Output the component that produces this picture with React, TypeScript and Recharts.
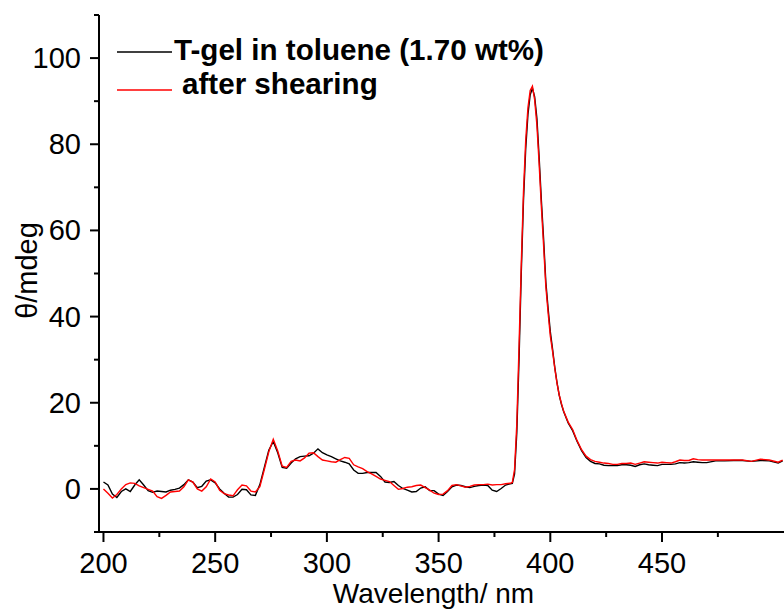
import { LineChart, Line, XAxis, YAxis, Label } from 'recharts';

// CD spectrum, wavelength in nm, theta in mdeg
const wavelength = [
  200, 202, 204, 206, 208, 210, 212, 214, 216, 218, 220, 222, 224, 226, 228, 230, 232, 234, 236, 238,
  240, 242, 244, 246, 248, 250, 252, 254, 256, 258, 260, 262, 264, 266, 268, 270, 272, 274, 276, 278,
  280, 282, 284, 286, 288, 290, 292, 294, 296, 298, 300, 302, 304, 306, 308, 310, 312, 314, 316, 318,
  320, 322, 324, 326, 328, 330, 332, 334, 336, 338, 340, 342, 344, 346, 348, 350, 352, 354, 356, 358,
  360, 362, 364, 366, 368, 370, 372, 374, 376, 378, 380, 382, 383, 384, 385, 386, 387, 388, 389, 390,
  391, 392, 393, 394, 395, 396, 397, 398, 399, 400, 401, 402, 403, 404, 405, 406, 408, 410, 412, 414,
  416, 418, 420, 422, 424, 426, 428, 430, 432, 434, 436, 438, 440, 442, 444, 446, 448, 450, 452, 454,
  456, 458, 460, 462, 464, 466, 468, 470, 474, 478, 482, 486, 490, 494, 498, 502, 504,
];

const gelToluene = [
  1.6, 0.9, -1.2, -2.0, -0.6, 0.0, -0.6, 0.9, 2.1, 0.9, -0.4, -0.8, -0.5, -0.6, -0.7, -0.3, -0.1, 0.2, 1.0, 2.1,
  1.6, 0.3, 0.6, 1.8, 2.1, 1.4, 0.0, -1.0, -1.9, -1.9, -1.3, -0.1, -0.2, -1.4, -1.5, 1.0, 5.0, 9.0, 11.0, 8.4,
  5.0, 4.8, 6.0, 7.0, 7.5, 7.6, 7.7, 8.3, 9.3, 8.4, 7.9, 7.5, 7.0, 6.5, 6.2, 5.8, 4.4, 3.6, 3.6, 3.8,
  3.8, 3.8, 2.9, 1.6, 1.5, 1.7, 0.8, 0.1, -0.3, -0.7, -0.6, 0.2, 0.5, -0.4, -0.4, -1.2, -1.5, -0.6, 0.5, 0.9,
  0.8, 0.5, 0.3, 0.6, 0.8, 0.9, 0.8, -0.3, -0.6, 0.1, 0.9, 1.2, 1.3, 3.5, 13, 30, 50, 67, 79, 87,
  91.5, 93, 91, 86, 77, 67, 58, 48, 42, 36.5, 32.5, 28.2, 24.7, 21.7, 19.6, 17.9, 15.3, 13.5, 11.0, 8.9,
  7.3, 6.4, 5.9, 5.8, 5.5, 5.4, 5.4, 5.4, 5.6, 5.6, 5.5, 5.2, 5.6, 5.8, 5.6, 5.5, 5.4, 5.7, 5.7, 5.7,
  5.8, 6.1, 6.0, 6.1, 6.3, 6.2, 6.1, 6.1, 6.5, 6.5, 6.6, 6.6, 6.4, 6.6, 6.5, 6.0, 6.5,
];

const afterShearing = [
  0.0, -1.0, -2.1, -1.3, 0.0, 1.0, 1.4, 1.3, 0.7, 0.3, -0.1, -0.5, -1.8, -2.2, -1.5, -0.7, -0.6, -0.5, 0.5, 2.1,
  1.6, 0.0, -0.5, 0.5, 2.3, 1.6, -0.3, -1.1, -1.4, -1.6, -0.2, 0.9, 0.7, -0.5, -0.7, 0.5, 4.5, 8.6, 11.5, 8.8,
  5.3, 5.0, 6.4, 6.7, 6.5, 7.2, 8.3, 8.4, 7.5, 6.7, 6.5, 6.3, 6.2, 6.8, 7.3, 7.1, 5.6, 5.1, 4.7, 4.0,
  3.5, 2.9, 2.3, 2.0, 1.7, 0.8, -0.1, 0.1, 0.4, 0.5, 0.8, 0.9, 0.3, -0.3, -1.0, -1.3, -1.2, -0.4, 0.8, 1.0,
  0.7, 0.4, 0.6, 0.9, 1.0, 1.0, 1.1, 0.9, 1.0, 1.0, 1.2, 1.3, 1.5, 4.5, 15, 33, 52, 69, 81, 88.5,
  92.5, 93.5, 90.3, 84.5, 75.5, 65.5, 56.5, 47, 41, 35.5, 32, 28, 24.5, 21.8, 19.8, 18, 15.5, 13.8, 11.2, 9.1,
  7.6, 6.8, 6.4, 6.2, 6.0, 5.9, 5.7, 5.7, 5.9, 5.9, 6.0, 5.7, 6.0, 6.3, 6.2, 6.1, 6.0, 6.2, 6.1, 6.0,
  6.3, 6.7, 6.6, 6.6, 7.0, 6.8, 6.7, 6.7, 6.7, 6.7, 6.7, 6.7, 6.4, 6.9, 6.7, 6.2, 6.7,
];

const xTicks = [200, 225, 250, 275, 300, 325, 350, 375, 400, 425, 450, 475];
const xLabels = [200, 250, 300, 350, 400, 450];
const yTicks = [-10, 0, 10, 20, 30, 40, 50, 60, 70, 80, 90, 100, 110];
const yLabels = [0, 20, 40, 60, 80, 100];

const rows = wavelength.map((wl, i) => ({ wl, gel: gelToluene[i], sheared: afterShearing[i] }));

const FONT = '"Liberation Sans", Arial, Helvetica, sans-serif';
const TICK = 10;

function XTick(props: any) {
  const { x, y, payload } = props;
  const major = xLabels.includes(payload.value);
  const axisY = y - TICK;
  return (
    <g>
      <line x1={x} x2={x} y1={axisY} y2={axisY + (major ? 10 : 5)} stroke="#000" strokeWidth={2} />
      {major && (
        <text x={x} y={axisY + 41} textAnchor="middle" fontSize={29} fontFamily={FONT} fill="#000">
          {payload.value}
        </text>
      )}
    </g>
  );
}

function YTick(props: any) {
  const { x, y, payload } = props;
  const major = yLabels.includes(payload.value);
  const axisX = x + TICK;
  return (
    <g>
      <line x1={axisX - (major ? 9 : 5)} x2={axisX} y1={y} y2={y} stroke="#000" strokeWidth={2} />
      {major && (
        <text x={axisX - 18} y={y + 10} textAnchor="end" fontSize={29} fontFamily={FONT} fill="#000">
          {payload.value}
        </text>
      )}
    </g>
  );
}

function LegendOverlay() {
  return (
    <svg width={480} height={90} style={{ position: 'absolute', left: 100, top: 25 }}>
      <line x1={17} x2={72} y1={27} y2={27} stroke="#000" strokeWidth={1.3} />
      <text x={74} y={35} fontSize={29.6} fontWeight="bold" fontFamily={FONT} fill="#000">
        T-gel in toluene (1.70 wt%)
      </text>
      <line x1={17} x2={72} y1={65} y2={65} stroke="#ff0000" strokeWidth={1.3} />
      <text x={82} y={69} fontSize={29.6} fontWeight="bold" fontFamily={FONT} fill="#000">
        after shearing
      </text>
    </svg>
  );
}

export default function App() {
  return (
    <div style={{ position: 'absolute', left: 0, top: 0, width: 784, height: 612, background: '#fff' }}>
      <LineChart width={784} height={612} data={rows} margin={{ top: 15, right: 0, bottom: 0, left: 0 }}>
        <XAxis
          dataKey="wl"
          type="number"
          domain={[198, 504.6]}
          ticks={xTicks}
          interval={0}
          height={80}
          tickSize={TICK}
          tickMargin={0}
          tickLine={false}
          tick={<XTick />}
          axisLine={{ stroke: '#000', strokeWidth: 2 }}
          allowDataOverflow
        >
          <Label
            content={(p: any) => {
              const vb = p.viewBox || { x: 99, y: 532, width: 685 };
              return (
                <text x={vb.x + vb.width / 2 - 8} y={vb.y + 71} textAnchor="middle" fontSize={28} fontFamily={FONT} fill="#000">
                  Wavelength/ nm
                </text>
              );
            }}
          />
        </XAxis>
        <YAxis
          type="number"
          domain={[-10, 110]}
          ticks={yTicks}
          interval={0}
          width={99}
          tickSize={TICK}
          tickMargin={0}
          tickLine={false}
          tick={<YTick />}
          axisLine={{ stroke: '#000', strokeWidth: 2 }}
          allowDataOverflow
        >
          <Label
            content={(p: any) => {
              const vb = p.viewBox || { x: 0, y: 15, height: 517 };
              const cy = vb.y + vb.height / 2 - 3;
              return (
                <text transform={`translate(37, ${cy}) rotate(-90)`} textAnchor="middle" fontSize={29} fontFamily={FONT} fill="#000">
                  θ/mdeg
                </text>
              );
            }}
          />
        </YAxis>
        <Line type="linear" dataKey="gel" stroke="#000" strokeWidth={1.4} dot={false} isAnimationActive={false} />
        <Line type="linear" dataKey="sheared" stroke="#ff0000" strokeWidth={1.4} dot={false} isAnimationActive={false} />
      </LineChart>
      <LegendOverlay />
    </div>
  );
}
